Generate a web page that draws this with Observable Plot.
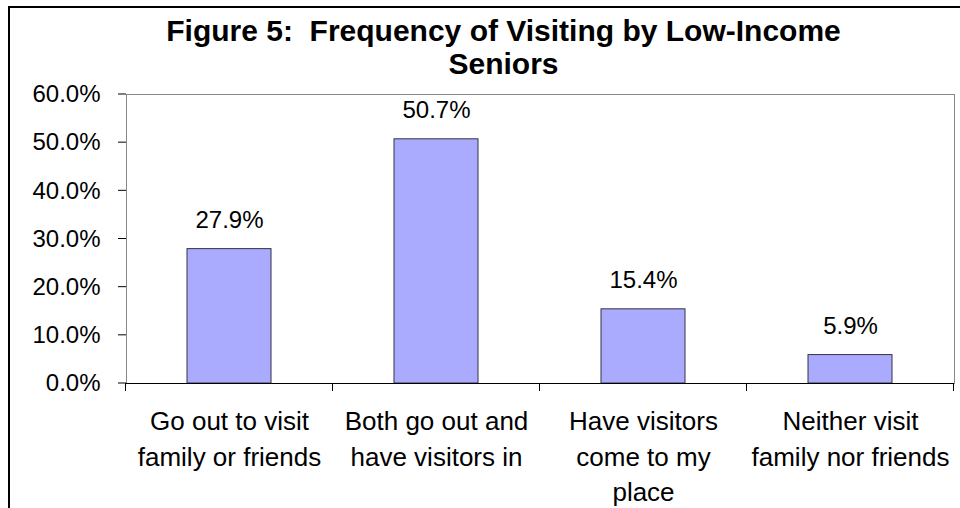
<!DOCTYPE html>
<html>
<head>
<meta charset="utf-8">
<script src="https://cdn.jsdelivr.net/npm/d3@7"></script>
<script src="https://cdn.jsdelivr.net/npm/@observablehq/plot@0.6"></script>
<style>
  html, body { margin: 0; padding: 0; background: #fff; overflow: hidden; }
  #wrap { position: relative; width: 960px; height: 508px; overflow: hidden; font-family: "Liberation Sans", Arial, sans-serif; }
  #border { position: absolute; left: 8px; top: 6px; width: 1100px; height: 700px; border: 2px solid #000; box-sizing: border-box; }
  #title { position: absolute; left: 0; top: 14px; width: 1007px; text-align: center; font-weight: bold; font-size: 30px; line-height: 33px; white-space: pre; color: #000; }
  #chart { position: absolute; left: 0; top: 80px; }
</style>
</head>
<body>
<div id="wrap">
  <div id="border"></div>
  <div id="title">Figure 5:  Frequency of Visiting by Low-Income
Seniors</div>
  <div id="chart"></div>
</div>
<script>
const categories = [
  "Go out to visit\nfamily or friends",
  "Both go out and\nhave visitors in",
  "Have visitors\ncome to my\nplace",
  "Neither visit\nfamily nor friends"
];
const values = [0.279, 0.507, 0.154, 0.059];
const yTicks = [0, 0.1, 0.2, 0.3, 0.4, 0.5, 0.6];

const data = categories.map((c, i) => ({category: c, value: values[i]}));
const fmt = d3.format(".1%");

// category boundary ticks below the x axis, computed from the band scale
function boundaryTicks(index, scales, values, dimensions) {
  const x = scales.x;
  const bw = typeof x.bandwidth === "function" ? x.bandwidth() : x.bandwidth;
  const centers = categories.map(c => x(c) + bw / 2);
  const step = centers[1] - centers[0];
  const bounds = [centers[0] - step / 2, ...centers.map(c => c + step / 2)];
  const y0 = dimensions.height - dimensions.marginBottom;
  const g = d3.create("svg:g");
  g.selectAll("line").data(bounds).join("line")
    .attr("x1", d => d).attr("x2", d => d)
    .attr("y1", y0).attr("y2", y0 + 8)
    .attr("stroke", "#000").attr("stroke-width", 1);
  return g.node();
}

// short y tick marks left of the axis, positioned with the y scale
function yTickMarks(index, scales, values, dimensions) {
  const y = scales.y;
  const x0 = dimensions.marginLeft;
  const g = d3.create("svg:g");
  g.selectAll("line").data(yTicks).join("line")
    .attr("x1", x0 - 8).attr("x2", x0)
    .attr("y1", d => y(d)).attr("y2", d => y(d))
    .attr("stroke", "#000").attr("stroke-width", 1);
  return g.node();
}

const chart = Plot.plot({
  width: 960,
  height: 428,
  marginTop: 14,
  marginBottom: 125,
  marginLeft: 126,
  marginRight: 6,
  style: {fontFamily: "Liberation Sans, Arial, sans-serif", background: "transparent", overflow: "visible"},
  x: {domain: categories, paddingInner: 0.594, paddingOuter: 0.297, axis: null},
  y: {domain: [0, 0.6], axis: null},
  marks: [
    Plot.frame({stroke: "#888", strokeWidth: 1}),
    Plot.barY(data, {x: "category", y: "value", fill: "#aaaaff", stroke: "#333344", strokeWidth: 1}),
    Plot.ruleX([0], {frameAnchor: "left", stroke: "#666", strokeWidth: 2}),
    Plot.ruleY([0], {stroke: "#000", strokeWidth: 1}),
    yTickMarks,
    Plot.text(yTicks, {y: d => d, text: d => fmt(d), frameAnchor: "left", textAnchor: "end", dx: -26, fontSize: 24, fill: "#000"}),
    Plot.text(data, {x: "category", y: "value", text: d => fmt(d.value), lineAnchor: "bottom", dy: -21, fontSize: 24, fill: "#000"}),
    Plot.text(data, {x: "category", text: "category", frameAnchor: "bottom", lineAnchor: "top", dy: 22, fontSize: 26, lineHeight: 1.35, fill: "#000"}),
    boundaryTicks
  ]
});
document.getElementById("chart").appendChild(chart);
</script>
</body>
</html>
